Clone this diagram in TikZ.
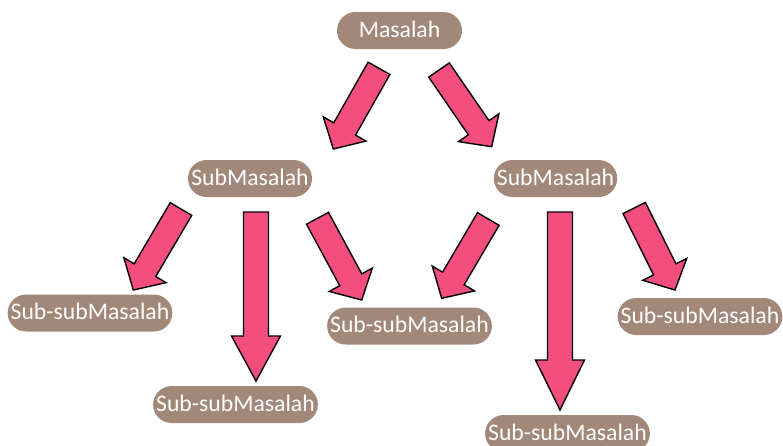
\documentclass[tikz,border=0pt]{standalone}
\usepackage{fontspec}
\setmainfont{Carlito}
\usetikzlibrary{calc,shapes.misc}
\definecolor{probtan}{RGB}{161,136,121}
\definecolor{arrowpink}{RGB}{244,78,126}
\tikzset
{
	probnode/.style = {rectangle, rounded corners=18.5pt, fill=probtan, text=white, align=center, minimum height=37pt, inner ysep=0pt, inner xsep=3pt, text height=15.3pt, text depth=2pt, font=\fontsize{23.7}{28}\selectfont},
	bigarrow/.style = {draw=black, fill=arrowpink, line width=1.4pt, line join=miter}
}
\newcommand{\shaftw}{12.5pt}
\newcommand{\headw}{24.5pt}
\newcommand{\blockarrow}[3]{%
	\coordinate (hb) at ($(#2)!#3!(#1)$);
	\draw[bigarrow] ($(#1)!\shaftw!90:(#2)$) -- ($(hb)!\shaftw!90:(#2)$) -- ($(hb)!\headw!90:(#2)$) -- (#2)
		-- ($(hb)!\headw!-90:(#2)$) -- ($(hb)!\shaftw!-90:(#2)$) -- ($(#1)!\shaftw!-90:(#2)$) -- cycle;
}
\begin{document}
\begin{tikzpicture}[x=1pt, y=-1pt]
\useasboundingbox (0,0) rectangle (783,445);

\node[probnode, minimum width=125pt] (masalah) at (399.5,30.5) {Masalah};
\node[probnode, minimum width=124pt] (subL) at (250,178.5) {SubMasalah};
\node[probnode, minimum width=123pt] (subR) at (555.5,178.5) {SubMasalah};

\node[probnode] (ssA) at (90,313) {Sub-subMasalah};
\node[probnode] (ssB) at (235.5,404.5) {Sub-subMasalah};
\node[probnode] (ssC) at (409.5,326) {Sub-subMasalah};
\node[probnode] (ssD) at (567.5,433.5) {Sub-subMasalah};
\node[probnode] (ssE) at (700,316.5) {Sub-subMasalah};

\coordinate (t1) at (379,68.3);    \coordinate (p1) at (333.3,149);
\coordinate (t2) at (439,70);      \coordinate (p2) at (491.7,146.7);
\coordinate (t3) at (181,209);     \coordinate (p3) at (133.3,290);
\coordinate (t4) at (256,212);     \coordinate (p4) at (256,381);
\coordinate (t5) at (317.5,218.3); \coordinate (p5) at (361.7,300);
\coordinate (t6) at (488.3,219);   \coordinate (p6) at (441.7,298.3);
\coordinate (t7) at (560,212);     \coordinate (p7) at (560,410);
\coordinate (t8) at (634.2,208);   \coordinate (p8) at (675,290);

\blockarrow{t1}{p1}{23pt}
\blockarrow{t2}{p2}{23pt}
\blockarrow{t3}{p3}{23pt}
\blockarrow{t4}{p4}{45pt}
\blockarrow{t5}{p5}{23pt}
\blockarrow{t6}{p6}{23pt}
\blockarrow{t7}{p7}{50pt}
\blockarrow{t8}{p8}{23pt}
\end{tikzpicture}
\end{document}
